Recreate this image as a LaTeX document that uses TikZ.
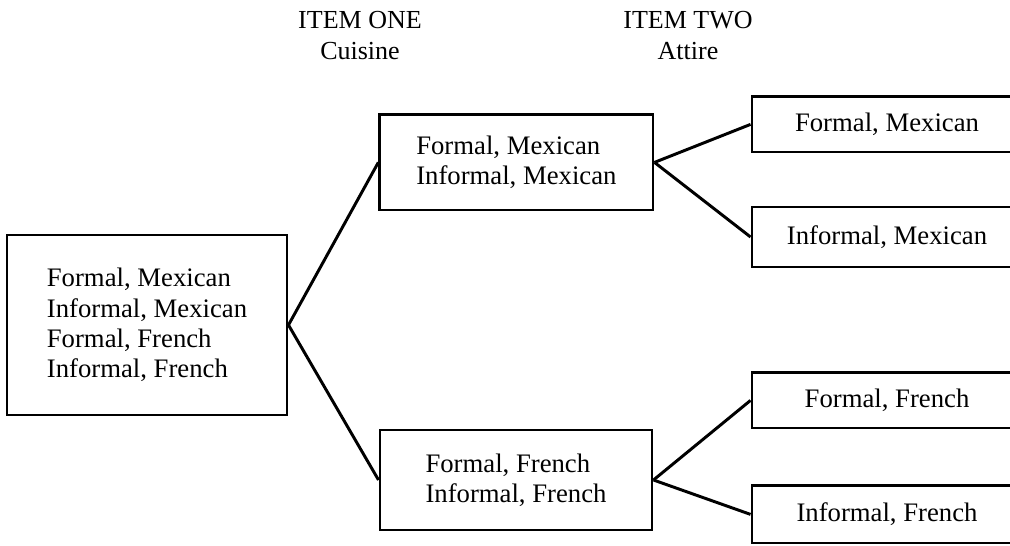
\documentclass[tikz,border=0pt]{standalone}
\usepackage{fontspec}
\setmainfont{Liberation Serif}
\usepackage{tikz}
\usepackage{xcolor}

\tikzset{
  choicebox/.style={draw,rectangle,line width=2.1pt,inner sep=0pt,align=left,
    font=\fontsize{19}{21.5}\selectfont},
  headlabel/.style={align=center,font=\fontsize{18.5}{22}\selectfont},
  branch/.style={line width=2.1pt}
}

\begin{document}
\begin{tikzpicture}
				\clip (0,0) rectangle (25.25,13.65);
				\node[headlabel] (itemone) at (9.0,12.76) {ITEM ONE\\Cuisine};
				\node[headlabel] (itemtwo) at (17.2,12.76) {ITEM TWO\\Attire};
				\node[choicebox,minimum width=7cm,minimum height=4.5cm] (all) at (3.675,5.525)
					{Formal, Mexican\\Informal, Mexican\\Formal, French\\Informal, French};
				\node[choicebox,minimum width=6.83cm,minimum height=2.38cm] (mexican) at (12.91,9.59)
					{Formal, Mexican\\Informal, Mexican};
				\node[choicebox,minimum width=6.8cm,minimum height=2.5cm] (french) at (12.9,1.65)
					{Formal, French\\Informal, French};
				\node[choicebox,minimum width=6.75cm,minimum height=1.38cm] (formalmex) at (22.175,10.54) {Formal, Mexican};
				\node[choicebox,minimum width=6.75cm,minimum height=1.5cm] (informalmex) at (22.175,7.725) {Informal, Mexican};
				\node[choicebox,minimum width=6.75cm,minimum height=1.38cm] (formalfr) at (22.175,3.64) {Formal, French};
				\node[choicebox,minimum width=6.75cm,minimum height=1.43cm] (informalfr) at (22.175,0.79) {Informal, French};
				\draw[branch] (all.east) -- (mexican.west);
				\draw[branch] (all.east) -- (french.west);
				\draw[branch] (mexican.east) -- (formalmex.west);
				\draw[branch] (mexican.east) -- (informalmex.west);
				\draw[branch] (french.east) -- (formalfr.west);
				\draw[branch] (french.east) -- (informalfr.west);
			\end{tikzpicture}
\end{document}
